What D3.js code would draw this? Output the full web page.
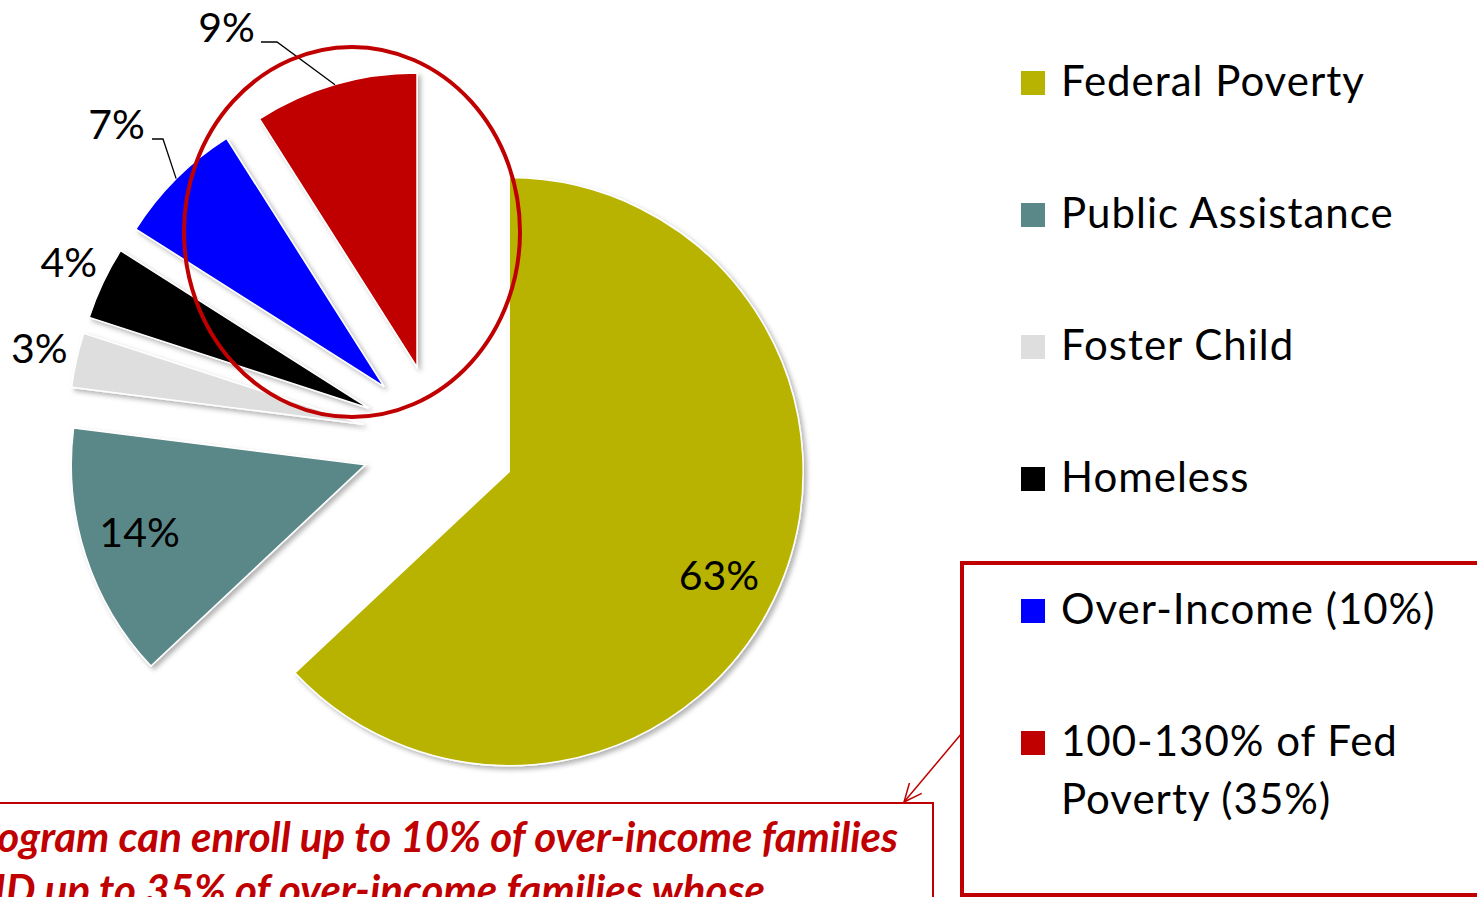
<!DOCTYPE html>
<html>
<head>
<meta charset="utf-8">
<script src="https://cdn.jsdelivr.net/npm/d3@7"></script>
<style>
  html, body { margin: 0; padding: 0; background: #fff; }
  svg { display: block; }
  text { font-family: Lato, "Noto Sans", sans-serif; }
</style>
</head>
<body>
<svg id="chart" width="1477" height="897"></svg>
<script>
// ---- data ----
const categories = ["Federal Poverty", "Public Assistance", "Foster Child", "Homeless", "Over-Income (10%)", "100-130% of Fed Poverty (35%)"];
const values = [63, 14, 3, 4, 7, 9];
const valueLabels = ["63%", "14%", "3%", "4%", "7%", "9%"];
const colors = ["#b7b300", "#5a8787", "#dedede", "#000000", "#0000ff", "#c00000"];
const noteLines = ["Program can enroll up to 10% of over-income families", "AND up to 35% of over-income families whose"];

// ---- layout ----
const W = 1477, H = 897;
const cx = 438.5, cy = 441, R = 294, explode = 77;
const svg = d3.select("#chart");

const defs = svg.append("defs");
const f = defs.append("filter").attr("id", "shadow").attr("x", "-20%").attr("y", "-20%").attr("width", "140%").attr("height", "140%");
f.append("feDropShadow").attr("dx", 3).attr("dy", 3).attr("stdDeviation", 2.5)
  .attr("flood-color", "#000").attr("flood-opacity", 0.3);

const pie = d3.pie().sort(null).value(d => d);
const arcs = pie(values);
const arc = d3.arc().innerRadius(0).outerRadius(R);

function apex(a) {
  const m = (a.startAngle + a.endAngle) / 2;
  return [cx + explode * Math.sin(m), cy - explode * Math.cos(m)];
}
function polar(a, r) {
  const m = (a.startAngle + a.endAngle) / 2;
  const p = apex(a);
  return [p[0] + r * Math.sin(m), p[1] - r * Math.cos(m)];
}

const slices = svg.append("g");
slices.selectAll("path").data(arcs).join("path")
  .attr("transform", d => `translate(${apex(d)[0]},${apex(d)[1]})`)
  .attr("d", arc)
  .attr("fill", (d, i) => colors[i])
  .attr("stroke", "#fff")
  .attr("stroke-width", 1.5)
  .attr("filter", "url(#shadow)");

// ---- value labels ----
const labelFont = 41;
const labelCfg = [
  { type: "in", r: 0.8, dx: -6, dy: 10 },
  { type: "in", r: 0.8, dx: -2, dy: -6 },
  { type: "out", r: 335, dx: 3, dy: -4 },
  { type: "out", r: 335, dx: 3, dy: -4 },
  { type: "lead", elbow: [163, 139], end: [152, 139], text: [145, 139] },
  { type: "lead", elbow: [277, 42], end: [261, 42], text: [255, 42] }
];
const lab = svg.append("g");
arcs.forEach((a, i) => {
  const c = labelCfg[i];
  if (c.type === "in" || c.type === "out") {
    const p = c.type === "in" ? polar(a, R * c.r) : polar(a, c.r);
    lab.append("text").attr("x", p[0] + c.dx).attr("y", p[1] + c.dy)
      .attr("text-anchor", "middle").attr("dominant-baseline", "central")
      .attr("font-size", labelFont).attr("fill", "#000").text(valueLabels[i]);
  } else {
    const p = polar(a, R);
    lab.append("polyline")
      .attr("points", [p, c.elbow, c.end].map(q => q.join(",")).join(" "))
      .attr("fill", "none").attr("stroke", "#000").attr("stroke-width", 1.3);
    lab.append("text").attr("x", c.text[0]).attr("y", c.text[1])
      .attr("text-anchor", "end").attr("font-size", labelFont).attr("fill", "#000")
      .text(valueLabels[i]);
  }
});

// ---- highlight ellipse ----
svg.append("ellipse").attr("cx", 352).attr("cy", 232).attr("rx", 168).attr("ry", 185)
  .attr("fill", "none").attr("stroke", "#c00000").attr("stroke-width", 4);

// ---- legend ----
const legX = 1021, legY0 = 96, legStep = 132, sw = 24, legFont = 42, wrapW = 400, lineH = 58;
const leg = svg.append("g");
categories.forEach((name, i) => {
  const y = legY0 + i * legStep;
  leg.append("rect").attr("x", legX).attr("y", y - 25).attr("width", sw).attr("height", sw).attr("fill", colors[i]);
  const t = leg.append("text").attr("x", legX + 40).attr("y", y).attr("font-size", legFont)
    .attr("letter-spacing", 1).attr("fill", "#000");
  const words = name.split(" ");
  let line = [], ts = t.append("tspan").attr("x", legX + 40).attr("y", y), n = 0;
  words.forEach(w => {
    line.push(w);
    ts.text(line.join(" "));
    if (ts.node().getComputedTextLength() > wrapW && line.length > 1) {
      line.pop(); ts.text(line.join(" "));
      line = [w]; n++;
      ts = t.append("tspan").attr("x", legX + 40).attr("y", y + n * lineH).text(w);
    }
  });
});

// ---- red box around legend items ----
svg.append("rect").attr("x", 962).attr("y", 563).attr("width", 600).attr("height", 332)
  .attr("fill", "none").attr("stroke", "#c00000").attr("stroke-width", 4);

// ---- callout arrow ----
defs.append("marker").attr("id", "arr").attr("viewBox", "0 0 20 20").attr("refX", 19).attr("refY", 10)
  .attr("markerWidth", 20).attr("markerHeight", 20).attr("markerUnits", "userSpaceOnUse").attr("orient", "auto")
  .append("path").attr("d", "M1,2 L19,10 L1,18").attr("fill", "none").attr("stroke", "#c00000").attr("stroke-width", 1.5);
svg.append("line").attr("x1", 962).attr("y1", 733).attr("x2", 904).attr("y2", 802)
  .attr("stroke", "#c00000").attr("stroke-width", 1.5).attr("marker-end", "url(#arr)");

// ---- note box ----
svg.append("rect").attr("x", -20).attr("y", 803).attr("width", 953).attr("height", 120)
  .attr("fill", "#fff").attr("stroke", "#c00000").attr("stroke-width", 2);
const noteEnds = [898, 765];
noteLines.forEach((l, i) => {
  svg.append("text").attr("x", noteEnds[i]).attr("y", 852 + i * 53)
    .attr("text-anchor", "end").attr("font-size", 42).attr("font-weight", "bold").attr("font-style", "italic")
    .attr("fill", "#c00000").text(l);
});
</script>
</body>
</html>
